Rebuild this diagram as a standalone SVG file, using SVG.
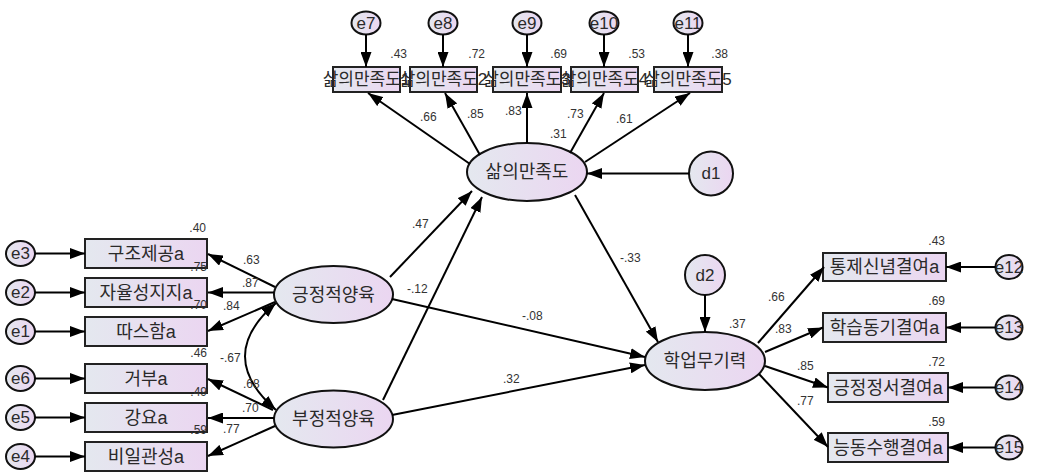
<svg xmlns="http://www.w3.org/2000/svg" width="1042" height="475" viewBox="0 0 1042 475">
<defs>
<linearGradient id="g" x1="0" y1="0" x2="1" y2="0">
<stop offset="0" stop-color="#e4e8ef"/>
<stop offset="1" stop-color="#ebd6f1"/>
</linearGradient>
<marker id="ah" viewBox="0 0 15 11" refX="15" refY="5.5" markerWidth="15" markerHeight="11" markerUnits="userSpaceOnUse" orient="auto-start-reverse">
<path d="M0,0 L15,5.5 L0,11 z" fill="#000"/>
</marker>
<style>
.bx{fill:url(#g);stroke:#222;stroke-width:2}
.el{fill:url(#g);stroke:#111;stroke-width:2}
.t{font-family:"Liberation Sans","Noto Sans CJK KR",sans-serif;font-size:18px;fill:#2a2a2a;text-anchor:middle;dominant-baseline:central}
.ts{font-size:17px}
.te{font-size:17px}
.n{font-family:"Liberation Sans",Arial,sans-serif;font-size:12px;fill:#333}
.e{text-anchor:end}
.c line,.c path{stroke:#000;stroke-width:2;fill:none;marker-end:url(#ah)}
</style>
</defs>
<rect width="1042" height="475" fill="#fff"/>

<g id="e7"><ellipse class="el" cx="366" cy="23" rx="14.5" ry="11.5"/><text class="t te" x="366" y="23">e7</text></g>
<g id="e8"><ellipse class="el" cx="443" cy="23" rx="14.5" ry="11.5"/><text class="t te" x="443" y="23">e8</text></g>
<g id="e9"><ellipse class="el" cx="527" cy="23" rx="14.5" ry="11.5"/><text class="t te" x="527" y="23">e9</text></g>
<g id="e10"><ellipse class="el" cx="604" cy="23" rx="14.5" ry="11.5"/><text class="t te" x="604" y="23">e10</text></g>
<g id="e11"><ellipse class="el" cx="688" cy="23" rx="14.5" ry="11.5"/><text class="t te" x="688" y="23">e11</text></g>

<g id="ls1"><rect class="bx" x="333" y="67" width="67" height="25"/><text class="t ts" x="366.5" y="79.5">삶의만족도1</text></g>
<g id="ls2"><rect class="bx" x="410" y="67" width="67" height="25"/><text class="t ts" x="443.5" y="79.5">삶의만족도2</text></g>
<g id="ls3"><rect class="bx" x="493" y="67" width="68" height="25"/><text class="t ts" x="527" y="79.5">삶의만족도3</text></g>
<g id="ls4"><rect class="bx" x="571" y="67" width="67" height="25"/><text class="t ts" x="604.5" y="79.5">삶의만족도4</text></g>
<g id="ls5"><rect class="bx" x="654" y="67" width="68" height="25"/><text class="t ts" x="688" y="79.5">삶의만족도5</text></g>

<g id="life"><ellipse class="el" cx="527" cy="172" rx="60" ry="29"/><text class="t" x="527" y="172">삶의만족도</text></g>
<g id="d1"><circle class="el" cx="711" cy="173.5" r="22"/><text class="t te" x="711" y="173.5">d1</text></g>
<g id="pos"><ellipse class="el" cx="333.5" cy="294.5" rx="59.5" ry="28.5"/><text class="t" x="333.5" y="294.5">긍정적양육</text></g>
<g id="neg"><ellipse class="el" cx="333.5" cy="419" rx="59.5" ry="28.5"/><text class="t" x="333.5" y="419">부정적양육</text></g>
<g id="helpless"><ellipse class="el" cx="705" cy="361" rx="60" ry="29"/><text class="t" x="705" y="361">학업무기력</text></g>
<g id="d2"><circle class="el" cx="705" cy="275" r="20"/><text class="t te" x="705" y="275">d2</text></g>

<g id="e3"><ellipse class="el" cx="20.5" cy="253.5" rx="14.5" ry="12.5"/><text class="t te" x="20.5" y="253.5">e3</text></g>
<g id="e2"><ellipse class="el" cx="20.5" cy="292.5" rx="14.5" ry="12.5"/><text class="t te" x="20.5" y="292.5">e2</text></g>
<g id="e1"><ellipse class="el" cx="20.5" cy="331.5" rx="14.5" ry="12.5"/><text class="t te" x="20.5" y="331.5">e1</text></g>
<g id="e6"><ellipse class="el" cx="20.5" cy="378.5" rx="14.5" ry="12.5"/><text class="t te" x="20.5" y="378.5">e6</text></g>
<g id="e5"><ellipse class="el" cx="20.5" cy="417.5" rx="14.5" ry="12.5"/><text class="t te" x="20.5" y="417.5">e5</text></g>
<g id="e4"><ellipse class="el" cx="20.5" cy="456.5" rx="14.5" ry="12.5"/><text class="t te" x="20.5" y="456.5">e4</text></g>

<g id="b_struct"><rect class="bx" x="85" y="239" width="122" height="29"/><text class="t" x="146" y="253.5">구조제공a</text></g>
<g id="b_auto"><rect class="bx" x="85" y="278" width="122" height="29"/><text class="t" x="146" y="292.5">자율성지지a</text></g>
<g id="b_warm"><rect class="bx" x="85" y="317" width="122" height="29"/><text class="t" x="146" y="331.5">따스함a</text></g>
<g id="b_rej"><rect class="bx" x="85" y="364" width="122" height="29"/><text class="t" x="146" y="378.5">거부a</text></g>
<g id="b_coer"><rect class="bx" x="85" y="403" width="122" height="29"/><text class="t" x="146" y="417.5">강요a</text></g>
<g id="b_inc"><rect class="bx" x="85" y="442" width="122" height="29"/><text class="t" x="146" y="456.5">비일관성a</text></g>

<g id="b_ctrl"><rect class="bx" x="823" y="253" width="123" height="28"/><text class="t" x="884.5" y="267">통제신념결여a</text></g>
<g id="b_motiv"><rect class="bx" x="823" y="313" width="123" height="29"/><text class="t" x="884.5" y="327.5">학습동기결여a</text></g>
<g id="b_emo"><rect class="bx" x="828" y="373" width="120" height="29"/><text class="t" x="888" y="387.5">긍정정서결여a</text></g>
<g id="b_act"><rect class="bx" x="828" y="433" width="120" height="29"/><text class="t" x="888" y="447.5">능동수행결여a</text></g>

<g id="e12"><ellipse class="el" cx="1009" cy="267" rx="13.5" ry="12"/><text class="t te" x="1009" y="267">e12</text></g>
<g id="e13"><ellipse class="el" cx="1009" cy="327.5" rx="13.5" ry="12"/><text class="t te" x="1009" y="327.5">e13</text></g>
<g id="e14"><ellipse class="el" cx="1009" cy="387.5" rx="13.5" ry="12"/><text class="t te" x="1009" y="387.5">e14</text></g>
<g id="e15"><ellipse class="el" cx="1009" cy="447.5" rx="13.5" ry="12"/><text class="t te" x="1009" y="447.5">e15</text></g>

<g id="connectors" class="c">
<line x1="366" y1="34.5" x2="366" y2="67"/>
<line x1="443" y1="34.5" x2="443" y2="67"/>
<line x1="527" y1="34.5" x2="527" y2="67"/>
<line x1="604" y1="34.5" x2="604" y2="67"/>
<line x1="688" y1="34.5" x2="688" y2="67"/>
<line x1="470" y1="164" x2="368" y2="93"/>
<line x1="480" y1="155" x2="445" y2="93"/>
<line x1="527" y1="143" x2="527" y2="93"/>
<line x1="570" y1="153" x2="604" y2="93"/>
<line x1="585" y1="162" x2="690" y2="93"/>
<line x1="689" y1="173.5" x2="587" y2="173.5"/>
<line x1="705" y1="295" x2="705" y2="332"/>
<line x1="575" y1="195" x2="658" y2="342"/>
<line x1="390" y1="277" x2="472" y2="191"/>
<line x1="383" y1="400" x2="482" y2="197"/>
<line x1="392" y1="299" x2="645" y2="357"/>
<line x1="392" y1="415" x2="645" y2="365"/>
<line x1="275" y1="287" x2="208" y2="254"/>
<line x1="274" y1="292.5" x2="208" y2="292.5"/>
<line x1="275" y1="302" x2="208" y2="331"/>
<line x1="273" y1="410" x2="208" y2="379"/>
<line x1="274" y1="418" x2="208" y2="418"/>
<line x1="275" y1="426" x2="208" y2="456"/>
<path d="M276,303 Q214,356 276,410" marker-start="url(#ah)"/>
<line x1="35" y1="253.5" x2="85" y2="253.5"/>
<line x1="35" y1="292.5" x2="85" y2="292.5"/>
<line x1="35" y1="331.5" x2="85" y2="331.5"/>
<line x1="35" y1="378.5" x2="85" y2="378.5"/>
<line x1="35" y1="417.5" x2="85" y2="417.5"/>
<line x1="35" y1="456.5" x2="85" y2="456.5"/>
<line x1="758" y1="343" x2="824" y2="267"/>
<line x1="765" y1="352" x2="823" y2="327.5"/>
<line x1="765" y1="366" x2="828" y2="387.5"/>
<line x1="759" y1="374" x2="828" y2="447"/>
<line x1="995.5" y1="267" x2="946" y2="267"/>
<line x1="995.5" y1="327.5" x2="946" y2="327.5"/>
<line x1="995.5" y1="387.5" x2="948" y2="387.5"/>
<line x1="995.5" y1="447.5" x2="948" y2="447.5"/>
</g>

<g id="labels">
<text class="n e" x="407" y="58">.43</text>
<text class="n e" x="485" y="58">.72</text>
<text class="n e" x="567" y="58">.69</text>
<text class="n e" x="645" y="58">.53</text>
<text class="n e" x="728" y="58">.38</text>
<text class="n" x="420" y="121">.66</text>
<text class="n" x="467" y="118">.85</text>
<text class="n" x="505" y="115">.83</text>
<text class="n" x="567" y="118">.73</text>
<text class="n" x="616" y="123">.61</text>
<text class="n" x="550" y="138">.31</text>
<text class="n" x="412" y="228">.47</text>
<text class="n" x="407" y="293">-.12</text>
<text class="n" x="522" y="320">-.08</text>
<text class="n" x="503" y="383">.32</text>
<text class="n" x="620" y="262">-.33</text>
<text class="n" x="729" y="328">.37</text>
<text class="n" x="768" y="301">.66</text>
<text class="n" x="775" y="333">.83</text>
<text class="n" x="797" y="370">.85</text>
<text class="n" x="797" y="405">.77</text>
<text class="n e" x="945" y="245">.43</text>
<text class="n e" x="945" y="305">.69</text>
<text class="n e" x="945" y="366">.72</text>
<text class="n e" x="945" y="426">.59</text>
<text class="n e" x="206" y="232">.40</text>
<text class="n e" x="207" y="271">.75</text>
<text class="n e" x="207" y="309">.70</text>
<text class="n e" x="207" y="357">.46</text>
<text class="n e" x="207" y="396">.49</text>
<text class="n e" x="207" y="434">.59</text>
<text class="n" x="243" y="264">.63</text>
<text class="n" x="242" y="287">.87</text>
<text class="n" x="223" y="310">.84</text>
<text class="n" x="220" y="362">-.67</text>
<text class="n" x="243" y="388">.68</text>
<text class="n" x="242" y="412">.70</text>
<text class="n" x="223" y="433">.77</text>
</g>
</svg>
